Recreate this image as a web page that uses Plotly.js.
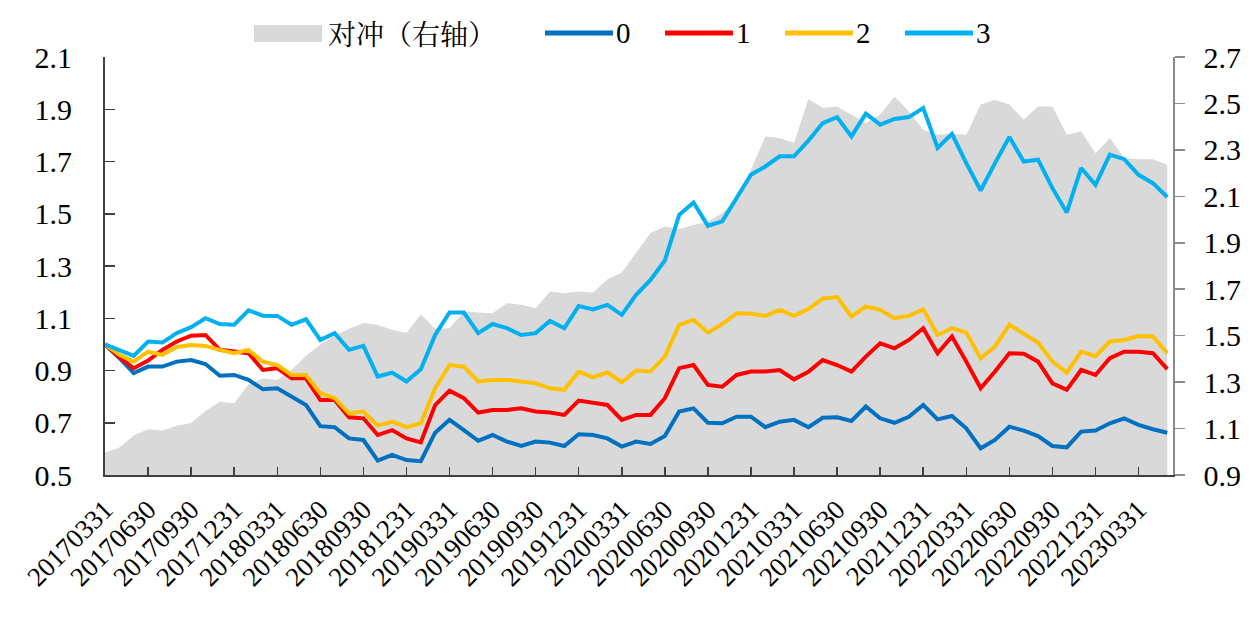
<!DOCTYPE html>
<html>
<head>
<meta charset="utf-8">
<script src="https://cdn.plot.ly/plotly-3.0.1.min.js"></script>
<style>
html,body{margin:0;padding:0;background:#fff;}
#chart{width:1254px;height:618px;}
</style>
</head>
<body>
<div id="chart"></div>
<script>
// Month-end dates (categories)
const dates = [
"20170331","20170430","20170531","20170630","20170731","20170831","20170930","20171031","20171130","20171231",
"20180131","20180228","20180331","20180430","20180531","20180630","20180731","20180831","20180930","20181031","20181130","20181231",
"20190131","20190228","20190331","20190430","20190531","20190630","20190731","20190831","20190930","20191031","20191130","20191231",
"20200131","20200229","20200331","20200430","20200531","20200630","20200731","20200831","20200930","20201031","20201130","20201231",
"20210131","20210228","20210331","20210430","20210531","20210630","20210731","20210831","20210930","20211031","20211130","20211231",
"20220131","20220228","20220331","20220430","20220531","20220630","20220731","20220831","20220930","20221031","20221130","20221231",
"20230131","20230228","20230331","20230430","20230531"
];

// Tick labels shown on the x axis (quarterly)
const tickLabels = [
"20170331","20170630","20170930","20171231","20180331","20180630","20180930","20181231",
"20190331","20190630","20190930","20191231","20200331","20200630","20200930","20201231",
"20210331","20210630","20210930","20211231","20220331","20220630","20220930","20221231","20230331"
];

// 对冲（右轴）
const hedge = [
0.996,1.018,1.070,1.097,1.092,1.112,1.124,1.176,1.215,1.209,1.290,1.316,1.309,1.352,1.413,1.462,1.500,1.530,1.555,1.546,1.526,1.512,1.592,
1.530,1.532,1.604,1.600,1.597,1.640,1.633,1.618,1.690,1.683,1.690,1.686,1.743,1.772,1.855,1.942,1.970,1.959,1.977,1.992,2.028,2.088,2.214,2.358,2.351,2.330,
2.519,2.480,2.487,2.451,2.416,2.451,2.530,2.466,2.387,2.365,2.370,2.365,2.495,2.516,2.495,2.430,2.487,2.487,2.365,2.380,2.286,2.351,2.265,2.260,2.260,2.236
];

const g0 = [
1.000,0.948,0.890,0.915,0.915,0.934,0.940,0.925,0.880,0.883,0.864,0.828,0.832,0.800,0.768,0.687,0.683,0.640,0.634,0.555,0.577,0.557,0.553,
0.662,0.711,0.672,0.631,0.653,0.628,0.611,0.628,0.624,0.611,0.656,0.653,0.640,0.609,0.628,0.619,0.649,0.743,0.755,0.700,0.698,0.723,0.723,0.683,0.704,0.711,
0.683,0.719,0.721,0.707,0.762,0.717,0.700,0.723,0.768,0.713,0.726,0.679,0.602,0.634,0.685,0.670,0.649,0.611,0.606,0.666,0.670,0.698,0.717,0.692,0.675,0.662
];

const g1 = [
1.000,0.950,0.909,0.938,0.979,1.011,1.033,1.036,0.979,0.972,0.966,0.902,0.909,0.870,0.870,0.787,0.787,0.721,0.717,0.653,0.672,0.640,0.625,
0.768,0.823,0.794,0.739,0.749,0.749,0.755,0.743,0.739,0.730,0.785,0.775,0.768,0.711,0.730,0.730,0.794,0.909,0.921,0.845,0.838,0.883,0.896,0.896,0.902,0.866,
0.895,0.940,0.921,0.896,0.953,1.004,0.985,1.017,1.062,0.966,1.030,0.934,0.832,0.896,0.966,0.964,0.934,0.851,0.826,0.902,0.883,0.947,0.972,0.972,0.966,0.905
];

const g2 = [
1.000,0.960,0.934,0.972,0.960,0.990,0.998,0.994,0.979,0.966,0.979,0.934,0.921,0.883,0.883,0.813,0.794,0.736,0.743,0.689,0.704,0.683,0.698,
0.832,0.921,0.915,0.858,0.864,0.864,0.858,0.851,0.832,0.826,0.896,0.874,0.893,0.855,0.900,0.896,0.953,1.075,1.094,1.045,1.078,1.119,1.117,1.109,1.132,1.109,
1.135,1.176,1.181,1.107,1.145,1.132,1.100,1.109,1.134,1.036,1.062,1.045,0.947,0.992,1.075,1.043,1.007,0.934,0.892,0.972,0.955,1.011,1.017,1.032,1.030,0.966
];

const g3 = [
1.000,0.980,0.956,1.011,1.007,1.043,1.066,1.100,1.078,1.075,1.130,1.110,1.109,1.075,1.096,1.017,1.043,0.979,0.994,0.877,0.892,0.858,0.905,
1.036,1.122,1.122,1.043,1.078,1.062,1.036,1.043,1.090,1.062,1.147,1.134,1.151,1.113,1.190,1.247,1.321,1.496,1.543,1.454,1.471,1.560,1.649,1.681,1.720,1.720,
1.780,1.847,1.870,1.796,1.883,1.841,1.863,1.870,1.905,1.752,1.806,1.694,1.589,1.694,1.794,1.700,1.707,1.598,1.505,1.675,1.611,1.726,1.709,1.649,1.617,1.564
];

const seriesNames = ["0","1","2","3"];
const seriesColors = ["#0070c0","#ff0000","#ffc000","#00b0f0"];
const hedgeName = "对冲（右轴）";
const hedgeColor = "#d9d9d9";

const FONT = "'Liberation Serif','Times New Roman','Noto Serif CJK SC','Noto Sans CJK SC',serif";

const traces = [];
traces.push({
  x: dates, y: hedge, name: hedgeName, type: "scatter", mode: "lines",
  fill: "tozeroy", fillcolor: hedgeColor, line: {width: 0, color: hedgeColor},
  xaxis: "x", yaxis: "y", showlegend: false, hoverinfo: "skip"
});
[g0, g1, g2, g3].forEach((arr, k) => {
  traces.push({
    x: dates, y: arr, name: seriesNames[k], type: "scatter", mode: "lines",
    line: {color: seriesColors[k], width: 4},
    xaxis: "x", yaxis: "y2", showlegend: false
  });
});

// plot area in pixels: left 105, right 1173, top 57, bottom 475
const L = 105, R = 1173, T = 57, B = 475;
const px = v => (v - L) / (R - L);
const py = v => (B - v) / (B - T);

const shapes = [];
const annotations = [];
// legend: hedge box
shapes.push({type: "rect", xref: "paper", yref: "paper",
  x0: px(254), x1: px(322), y0: py(42), y1: py(25),
  fillcolor: hedgeColor, line: {width: 0}});
annotations.push({xref: "paper", yref: "paper", x: px(326), y: py(33),
  xanchor: "left", yanchor: "middle", showarrow: false, text: hedgeName,
  font: {family: "'Noto Serif CJK SC','Noto Sans CJK SC',serif", size: 28, color: "#000"}});
const legX = [545, 665, 785, 905];
seriesNames.forEach((n, k) => {
  shapes.push({type: "line", xref: "paper", yref: "paper",
    x0: px(legX[k]), x1: px(legX[k] + 68), y0: py(33), y1: py(33),
    line: {color: seriesColors[k], width: 5}});
  annotations.push({xref: "paper", yref: "paper", x: px(legX[k] + 69), y: py(33),
    xanchor: "left", yanchor: "middle", showarrow: false, text: n,
    font: {family: FONT, size: 29, color: "#000"}});
});

const layout = {
  width: 1254, height: 618,
  margin: {l: L, r: 1254 - R, t: T, b: 618 - B},
  paper_bgcolor: "#fff", plot_bgcolor: "#fff",
  showlegend: false,
  font: {family: FONT, size: 28, color: "#000"},
  xaxis: {
    type: "category", range: [0, 74.4],
    tickmode: "array", tickvals: tickLabels, ticktext: tickLabels,
    tickangle: -45, ticks: "inside", ticklen: 8, tickcolor: "#404040", tickwidth: 1.5,
    showline: true, linecolor: "#404040", linewidth: 2,
    showgrid: false, zeroline: false,
    tickfont: {family: FONT, size: 27, color: "#000"},
    ticklabelstandoff: 6
  },
  yaxis: {
    side: "right", range: [0.9, 2.7], dtick: 0.2, tick0: 0.9,
    tickformat: ".1f",
    ticks: "outside", ticklen: 10, tickcolor: "#8c8c8c", tickwidth: 1.5,
    showline: true, linecolor: "#8c8c8c", linewidth: 1.5,
    showgrid: false, zeroline: false,
    tickfont: {family: FONT, size: 30, color: "#000"},
    ticklabelstandoff: 13
  },
  yaxis2: {
    overlaying: "y", side: "left", range: [0.5, 2.1], dtick: 0.2, tick0: 0.5,
    tickformat: ".1f",
    ticks: "inside", ticklen: 10, tickcolor: "#404040", tickwidth: 1.5,
    showline: true, linecolor: "#404040", linewidth: 2,
    showgrid: false, zeroline: false,
    tickfont: {family: FONT, size: 30, color: "#000"},
    ticklabelstandoff: 25
  },
  shapes: shapes,
  annotations: annotations
};

Plotly.newPlot("chart", traces, layout, {displayModeBar: false, staticPlot: true});
</script>
</body>
</html>
